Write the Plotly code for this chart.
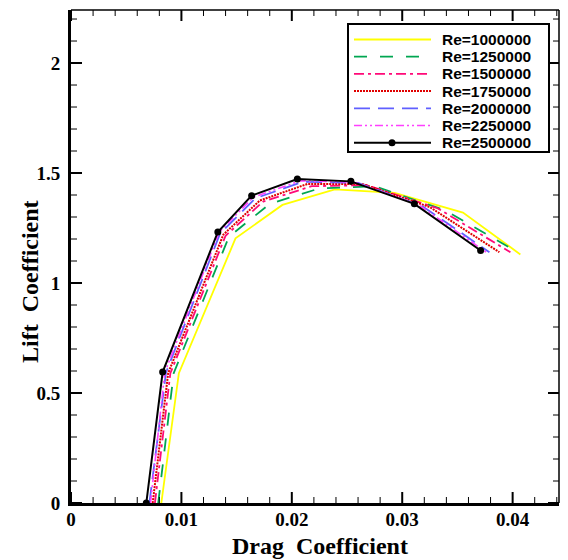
import plotly.graph_objects as go

# Drag coefficient (x) and lift coefficient (y) per Reynolds number
cd_re1000000 = [0.00818, 0.00977, 0.0149, 0.01915, 0.0239, 0.0293, 0.0355, 0.0407]
cl_re1000000 = [0.0, 0.59, 1.203, 1.355, 1.426, 1.41, 1.32, 1.13]

cd_re1250000 = [0.0079, 0.0093, 0.0143, 0.0180, 0.0225, 0.0275, 0.0339, 0.0401]
cl_re1250000 = [0.0, 0.59, 1.21, 1.36, 1.43, 1.44, 1.33, 1.15]

cd_re1500000 = [0.0076, 0.0090, 0.0140, 0.0174, 0.0218, 0.0268, 0.0332, 0.0398]
cl_re1500000 = [0.0, 0.59, 1.215, 1.37, 1.44, 1.445, 1.34, 1.14]

cd_re1750000 = [0.0074, 0.0088, 0.0138, 0.0171, 0.0214, 0.0264, 0.0325, 0.0388]
cl_re1750000 = [0.0, 0.59, 1.22, 1.375, 1.45, 1.45, 1.345, 1.14]

cd_re2000000 = [0.0071, 0.0086, 0.0135, 0.0167, 0.0210, 0.0260, 0.0318, 0.0379]
cl_re2000000 = [0.0, 0.592, 1.225, 1.385, 1.46, 1.455, 1.35, 1.14]

cd_re2250000 = [0.0072, 0.0085, 0.0134, 0.0165, 0.0208, 0.0257, 0.0315, 0.0376]
cl_re2250000 = [0.0, 0.594, 1.23, 1.39, 1.465, 1.458, 1.355, 1.14]

cd_re2500000 = [0.00682, 0.0083, 0.0133, 0.01636, 0.0205, 0.02535, 0.0311, 0.0371]
cl_re2500000 = [0.0, 0.595, 1.232, 1.397, 1.473, 1.462, 1.36, 1.148]

series_names = ["Re=1000000", "Re=1250000", "Re=1500000", "Re=1750000",
                "Re=2000000", "Re=2250000", "Re=2500000"]

x_tickvals = [0, 0.01, 0.02, 0.03, 0.04]
x_ticklabels = ["0", "0.01", "0.02", "0.03", "0.04"]
y_tickvals = [0, 0.5, 1, 1.5, 2]
y_ticklabels = ["0", "0.5", "1", "1.5", "2"]
x_minor_step = 0.002
y_minor_step = 0.1

series = [
    (cd_re1000000, cl_re1000000),
    (cd_re1250000, cl_re1250000),
    (cd_re1500000, cl_re1500000),
    (cd_re1750000, cl_re1750000),
    (cd_re2000000, cl_re2000000),
    (cd_re2250000, cl_re2250000),
    (cd_re2500000, cl_re2500000),
]
styles = [
    dict(color="#FFFF00", dash="solid", width=1.8),
    dict(color="#00A651", dash="13px,13px", width=1.8),
    dict(color="#FF0A78", dash="10px,4px,3px,4px", width=1.8),
    dict(color="#E00000", dash="2px,1px", width=2.0),
    dict(color="#6060FF", dash="16px,8px", width=1.8),
    dict(color="#FF40FF", dash="8px,3px,2px,3px,2px,3px", width=1.6),
    dict(color="black", dash="solid", width=2.0),
]

W, H = 568, 560
ML, MR, MT, MB = 71, 9, 10, 57
PW, PH = W - ML - MR, H - MT - MB


def xp(px):
    return (px - ML) / PW


def yp(py):
    return 1 - (py - MT) / PH


fig = go.Figure()
for (xs, ys), name, st in zip(series, series_names, styles):
    is_last = name == series_names[-1]
    fig.add_trace(go.Scatter(
        x=xs, y=ys, mode="lines+markers" if is_last else "lines", name=name,
        line=st, marker=dict(color="black", size=7, symbol="circle"),
        showlegend=False))

serif = "Liberation Serif"
xr = [0, 0.0442]
yr = [0, 2.241]

fig.update_layout(
    width=W, height=H,
    margin=dict(l=ML, r=MR, t=MT, b=MB),
    paper_bgcolor="white", plot_bgcolor="white",
    showlegend=False,
    xaxis=dict(range=xr, tickmode="array", tickvals=x_tickvals, ticktext=x_ticklabels,
               showgrid=False, zeroline=False, showline=True, linecolor="black", linewidth=3,
               ticks="", ticklabelstandoff=-3,
               tickfont=dict(family=serif, size=19, color="black", weight="bold")),
    yaxis=dict(range=yr, tickmode="array", tickvals=y_tickvals, ticktext=y_ticklabels,
               showgrid=False, zeroline=False, showline=True, linecolor="black", linewidth=3,
               ticks="", ticklabelstandoff=4,
               tickfont=dict(family=serif, size=19, color="black", weight="bold")),
)

shapes = [
    dict(type="line", xref="paper", yref="paper", x0=0, x1=1, y0=1, y1=1,
         line=dict(color="black", width=1.5)),
    dict(type="line", xref="paper", yref="paper", x0=1, x1=1, y0=0, y1=1,
         line=dict(color="black", width=1.5)),
]


# tick marks (inside, on all four sides)
def x_tick(v, length, width):
    for anchor, sign in ((0, 1), (1, -1)):
        shapes.append(dict(type="line", xref="x", yref="paper", ysizemode="pixel",
                           yanchor=anchor, x0=v, x1=v, y0=0, y1=sign * length,
                           line=dict(color="black", width=width)))


def y_tick(v, length, width):
    for anchor, sign in ((0, 1), (1, -1)):
        shapes.append(dict(type="line", yref="y", xref="paper", xsizemode="pixel",
                           xanchor=anchor, y0=v, y1=v, x0=0, x1=sign * length,
                           line=dict(color="black", width=width)))


n = 0
while n * x_minor_step <= xr[1] + 1e-12:
    v = round(n * x_minor_step, 6)
    if n % 5 == 0:
        x_tick(v, 11, 2)
    else:
        x_tick(v, 6, 1)
    n += 1
n = 0
while n * y_minor_step <= yr[1] + 1e-12:
    v = round(n * y_minor_step, 6)
    if n % 5 == 0:
        y_tick(v, 11, 2)
    else:
        y_tick(v, 6, 1)
    n += 1

shapes.append(dict(type="rect", xref="paper", yref="paper",
                   x0=xp(348), x1=xp(549), y0=yp(24), y1=yp(152),
                   line=dict(color="black", width=2), fillcolor="white", layer="above"))

annotations = [
    dict(xref="paper", yref="paper", x=xp(320), y=yp(546), xanchor="center",
         yanchor="middle", showarrow=False, text="Drag  Coefficient",
         font=dict(family=serif, size=24, color="black", weight="bold")),
    dict(xref="paper", yref="paper", x=xp(30), y=yp(282), xanchor="center",
         yanchor="middle", showarrow=False, text="Lift  Coefficient", textangle=-90,
         font=dict(family=serif, size=24, color="black", weight="bold")),
]
for i, (name, st) in enumerate(zip(series_names, styles)):
    cy = 39.5 + i * 17.2
    shapes.append(dict(type="line", xref="paper", yref="paper",
                       x0=xp(354), x1=xp(431), y0=yp(cy), y1=yp(cy),
                       line=dict(color=st["color"], dash=st["dash"], width=st["width"])))
    annotations.append(dict(xref="paper", yref="paper", x=xp(441), y=yp(cy),
                            xanchor="left", yanchor="middle", showarrow=False,
                            text=name, borderpad=0,
                            font=dict(family="Liberation Sans", size=15.5, color="black",
                                      weight="bold")))
    if i == len(series_names) - 1:
        shapes.append(dict(type="circle", xref="paper", yref="paper",
                           x0=xp(388.5), x1=xp(395.5), y0=yp(cy - 3.5), y1=yp(cy + 3.5),
                           fillcolor="black", line=dict(color="black", width=0)))

fig.update_layout(shapes=shapes, annotations=annotations)

fig.write_html("out.html")
